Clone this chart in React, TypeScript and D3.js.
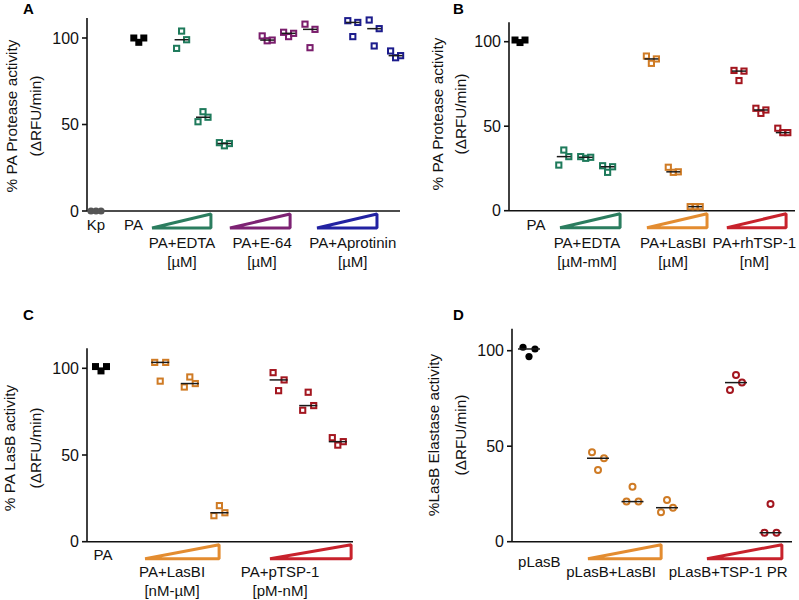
import React from "react";
import * as d3 from "d3";

const FONT = "'Liberation Sans', Arial, Helvetica, sans-serif";

// ---------- Data ----------
// Panel A – % PA Protease activity
const aKp = [0, 0, 0];
const aPA = [100, 97.5, 100];
const aEDTA = [[94, 104, 99], [51.6, 57.4, 54.2], [39.5, 37.7, 39]];
const aE64 = [[101.2, 98.4, 98.8], [103.3, 100.8, 102.7], [108, 94.4, 105]];
const aApro = [[110, 100.8, 109], [110.4, 95.4, 105.4], [92.5, 88.6, 89.8]];

// Panel B – % PA Protease activity
const bPA = [101, 99.5, 101];
const bEDTA = [[27, 35.9, 32], [32, 31, 31.6], [26.6, 22.7, 26]];
const bLasBI = [[91.5, 87.2, 89.8], [25.7, 22.7, 23], [2.4, 2.4, 2.4]];
const bTSP = [[83, 77, 82.6], [60.6, 57.6, 59.6], [48.8, 46.2, 46.2]];

// Panel C – % PA LasB activity
const cPA = [101, 98.5, 101];
const cLasBI = [[103.4, 92.6, 103.4], [89.2, 95, 91.2], [15, 20.8, 16.7]];
const cTSP = [[97.5, 87.1, 93.3], [75.8, 86.2, 78.5], [60, 55.7, 57.7]];

// Panel D – %LasB Elastase activity
const dLasB = [101.8, 96.9, 100.9];
const dLasBI = [[46.8, 37.5, 43.7], [21, 28.8, 21], [15.4, 21.8, 17.8]];
const dTSP = [[79.4, 87.3, 83.3], [4.7, 19.7, 4.7]];

const yTicks = [0, 50, 100];

// ---------- Colours ----------
const GREEN = "#1e7a5b";
const GREEN_T = "#2b7d5f";
const PURPLE = "#7a1d6c";
const PURPLE_T = "#7d2273";
const BLUE = "#1c1c8c";
const BLUE_T = "#2222a2";
const ORANGE = "#cf7b25";
const ORANGE_T = "#e38c30";
const RED = "#a3161f";
const RED_T = "#c8222c";

type Group = {
  slot: number;
  values: number[];
  color: string;
  shape: "square" | "circle";
  filled: boolean;
  median: boolean;
};
type Tri = { s0: number; s1: number; color: string };
type Lbl = { slot: number; lines: string[]; y: number };
type Cfg = {
  letter: string;
  letterX: number;
  letterY: number;
  x0: number;
  xEnd: number;
  yZero: number;
  y100: number;
  slot0: number;
  slotW: number;
  jit: number;
  medW: number;
  titles: string[];
  titleX: number[];
  titleY: number;
  groups: Group[];
  tris: Tri[];
  labels: Lbl[];
};

const series = (
  start: number,
  arr: number[][],
  color: string,
  shape: "square" | "circle"
): Group[] =>
  arr.map((values, i) => ({ slot: start + i, values, color, shape, filled: false, median: true }));

function Panel({ cfg }: { cfg: Cfg }) {
  const y = d3.scaleLinear().domain([0, 100]).range([cfg.yZero, cfg.y100]);
  const x = d3.scaleLinear().domain([0, 1]).range([cfg.slot0, cfg.slot0 + cfg.slotW]);
  const offs = [-cfg.jit, 0, cfg.jit];
  const yMax = 111.5;
  return (
    <g fontFamily={FONT}>
      <text x={cfg.letterX} y={cfg.letterY} fontSize={15} fontWeight="bold">
        {cfg.letter}
      </text>
      {cfg.titles.map((t, i) => (
        <text
          key={i}
          transform={`translate(${cfg.titleX[i]},${cfg.titleY}) rotate(-90)`}
          textAnchor="middle"
          dy="0.35em"
          fontSize={15.3}
          fill="#111"
        >
          {t}
        </text>
      ))}
      {/* axes */}
      <line x1={cfg.x0} x2={cfg.x0} y1={y(yMax)} y2={y(0)} stroke="#111" strokeWidth={1.6} />
      <line x1={cfg.x0} x2={cfg.xEnd} y1={y(0)} y2={y(0)} stroke="#111" strokeWidth={1.6} />
      {yTicks.map((t) => (
        <g key={t}>
          <line x1={cfg.x0 - 5} x2={cfg.x0} y1={y(t)} y2={y(t)} stroke="#111" strokeWidth={1.6} />
          <text x={cfg.x0 - 8} y={y(t)} dy="0.36em" textAnchor="end" fontSize={16} fill="#111">
            {t}
          </text>
        </g>
      ))}
      {/* triangles */}
      {cfg.tris.map((t, i) => {
        const yb = cfg.yZero + 17;
        const yt = cfg.yZero + 3;
        const xa = x(t.s0);
        const xb = x(t.s1);
        return (
          <polygon
            key={i}
            points={`${xa},${yb} ${xb},${yt} ${xb},${yb}`}
            fill="none"
            stroke={t.color}
            strokeWidth={3}
            strokeLinejoin="bevel"
          />
        );
      })}
      {/* category labels */}
      {cfg.labels.map((l, i) => (
        <text key={i} textAnchor="middle" fontSize={15} fill="#111">
          {l.lines.map((ln, j) => (
            <tspan key={j} x={x(l.slot)} y={l.y + j * 18.5}>
              {ln}
            </tspan>
          ))}
        </text>
      ))}
      {/* points */}
      {cfg.groups.map((g, gi) => {
        const cx = x(g.slot);
        const med = d3.median(g.values) as number;
        return (
          <g key={gi}>
            {g.values.map((v, k) => {
              const px = cx + offs[k % 3];
              const py = y(v);
              if (g.shape === "square") {
                const s = g.filled ? 7 : 5.2;
                return (
                  <rect
                    key={k}
                    x={px - s / 2}
                    y={py - s / 2}
                    width={s}
                    height={s}
                    fill={g.filled ? g.color : "none"}
                    stroke={g.color}
                    strokeWidth={g.filled ? 0 : 2}
                  />
                );
              }
              const r = g.filled ? 3.6 : 3;
              return (
                <circle
                  key={k}
                  cx={px}
                  cy={py}
                  r={r}
                  fill={g.filled ? g.color : "none"}
                  stroke={g.color}
                  strokeWidth={g.filled ? 0 : 2}
                />
              );
            })}
            {g.median && (
              <line
                x1={cx - cfg.medW / 2}
                x2={cx + cfg.medW / 2}
                y1={y(med)}
                y2={y(med)}
                stroke="#1a1a1a"
                strokeWidth={1.5}
              />
            )}
          </g>
        );
      })}
    </g>
  );
}

export default function App() {
  const A: Cfg = {
    letter: "A",
    letterX: 23,
    letterY: 14,
    x0: 87,
    xEnd: 400,
    yZero: 211,
    y100: 38,
    slot0: 96,
    slotW: 21.4,
    jit: 5,
    medW: 14,
    titles: ["% PA Protease activity", "(\u0394RFU/min)"],
    titleX: [12, 36],
    titleY: 116,
    groups: [
      { slot: 0, values: aKp, color: "#555", shape: "circle", filled: true, median: false },
      { slot: 2, values: aPA, color: "#000", shape: "square", filled: true, median: false },
      ...series(4, aEDTA, GREEN, "square"),
      ...series(8, aE64, PURPLE, "square"),
      ...series(12, aApro, BLUE, "square"),
    ],
    tris: [
      { s0: 2.62, s1: 5.37, color: GREEN_T },
      { s0: 6.26, s1: 9.07, color: PURPLE_T },
      { s0: 10.33, s1: 13.13, color: BLUE_T },
    ],
    labels: [
      { slot: 0, lines: ["Kp"], y: 230 },
      { slot: 1.75, lines: ["PA"], y: 230 },
      { slot: 4.02, lines: ["PA+EDTA", "[\u00b5M]"], y: 248 },
      { slot: 7.76, lines: ["PA+E-64", "[\u00b5M]"], y: 248 },
      { slot: 12.0, lines: ["PA+Aprotinin", "[\u00b5M]"], y: 248 },
    ],
  };

  const B: Cfg = {
    letter: "B",
    letterX: 453,
    letterY: 14,
    x0: 509,
    xEnd: 795,
    yZero: 210.7,
    y100: 41.7,
    slot0: 520,
    slotW: 21.9,
    jit: 5,
    medW: 14,
    titles: ["% PA Protease activity", "(\u0394RFU/min)"],
    titleX: [438, 461],
    titleY: 114,
    groups: [
      { slot: 0, values: bPA, color: "#000", shape: "square", filled: true, median: false },
      ...series(2, bEDTA, GREEN, "square"),
      ...series(6, bLasBI, ORANGE, "square"),
      ...series(10, bTSP, RED, "square"),
    ],
    tris: [
      { s0: 1.83, s1: 4.57, color: GREEN_T },
      { s0: 5.8, s1: 8.54, color: ORANGE_T },
      { s0: 9.45, s1: 12.15, color: RED_T },
    ],
    labels: [
      { slot: 0.73, lines: ["PA"], y: 230 },
      { slot: 3.06, lines: ["PA+EDTA", "[\u00b5M-mM]"], y: 248 },
      { slot: 6.99, lines: ["PA+LasBI", "[\u00b5M]"], y: 248 },
      { slot: 10.7, lines: ["PA+rhTSP-1", "[nM]"], y: 248 },
    ],
  };

  const C: Cfg = {
    letter: "C",
    letterX: 23,
    letterY: 320,
    x0: 87,
    xEnd: 353,
    yZero: 541.7,
    y100: 368.3,
    slot0: 101,
    slotW: 29.6,
    jit: 5.5,
    medW: 18,
    titles: ["% PA LasB activity", "(\u0394RFU/min)"],
    titleX: [10, 36],
    titleY: 448,
    groups: [
      { slot: 0, values: cPA, color: "#000", shape: "square", filled: true, median: false },
      ...series(2, cLasBI, ORANGE, "square"),
      ...series(6, cTSP, RED, "square"),
    ],
    tris: [
      { s0: 1.49, s1: 3.99, color: ORANGE_T },
      { s0: 5.71, s1: 8.45, color: RED_T },
    ],
    labels: [
      { slot: 0.07, lines: ["PA"], y: 560 },
      { slot: 2.4, lines: ["PA+LasBI", "[nM-\u00b5M]"], y: 577 },
      { slot: 6.05, lines: ["PA+pTSP-1", "[pM-nM]"], y: 577 },
    ],
  };

  const D: Cfg = {
    letter: "D",
    letterX: 453,
    letterY: 320,
    x0: 512,
    xEnd: 792,
    yZero: 541.7,
    y100: 350.7,
    slot0: 529,
    slotW: 34.5,
    jit: 6,
    medW: 22,
    titles: ["%LasB Elastase activity", "(\u0394RFU/min)"],
    titleX: [434, 461],
    titleY: 435,
    groups: [
      { slot: 0, values: dLasB, color: "#000", shape: "circle", filled: true, median: true },
      ...series(2, dLasBI, ORANGE, "circle"),
      ...series(6, dTSP, RED, "circle"),
    ],
    tris: [
      { s0: 1.71, s1: 3.83, color: ORANGE_T },
      { s0: 5.16, s1: 7.33, color: RED_T },
    ],
    labels: [
      { slot: 0.3, lines: ["pLasB"], y: 567 },
      { slot: 2.38, lines: ["pLasB+LasBI"], y: 577 },
      { slot: 5.77, lines: ["pLasB+TSP-1 PR"], y: 577 },
    ],
  };

  return (
    <svg
      width={799}
      height={600}
      viewBox="0 0 799 600"
      style={{ position: "absolute", left: 0, top: 0, background: "#fff" }}
    >
      <rect width={799} height={600} fill="#fff" />
      <Panel cfg={A} />
      <Panel cfg={B} />
      <Panel cfg={C} />
      <Panel cfg={D} />
    </svg>
  );
}
